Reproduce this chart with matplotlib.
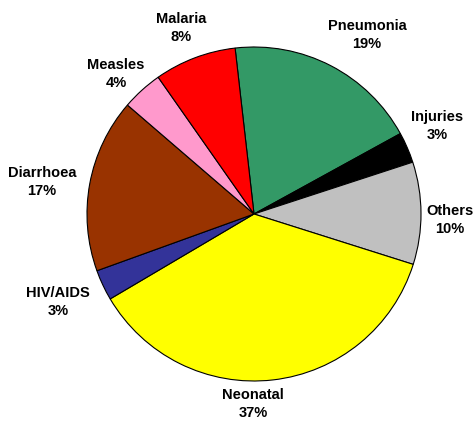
import numpy as np
import matplotlib.pyplot as plt

causes = ['Pneumonia', 'Injuries', 'Others', 'Neonatal', 'HIV/AIDS', 'Diarrhoea', 'Measles', 'Malaria']
percent = [19, 3, 10, 37, 3, 17, 4, 8]
colors = ['#339966', '#000000', '#c0c0c0', '#ffff00', '#333399', '#993300', '#ff99cc', '#ff0000']

labels = [f'{c}\n{p}%' for c, p in zip(causes, percent)]

W, H = 477, 423
fig = plt.figure(figsize=(W / 100, H / 100), dpi=100)
cx, cy, r = 254, 209, 167
lim = 1.25
half = lim * r
ax = fig.add_axes([(cx - half) / W, (cy - half) / H, 2 * half / W, 2 * half / H])
ax.axis('off')

wedges, texts = ax.pie(percent, colors=colors, labels=labels, startangle=96.5,
                       counterclock=False, labeldistance=1.18,
                       wedgeprops=dict(edgecolor='black', linewidth=0.8),
                       textprops=dict(family='Liberation Sans', fontweight='bold',
                                      fontsize=10.5, linespacing=1.3))

# label placement (pixel centres in the image, Excel-style layout)
label_px = [(367, 35), (437, 126), (450, 220), (253, 404),
            (58, 302), (42, 182), (116, 74), (181, 28)]
for t, (px, py) in zip(texts, label_px):
    t.set_ha('center')
    t.set_va('center')
    t.set_position(((px - cx) / r, (H - py - cy) / r))

ax.set_xlim(-lim, lim)
ax.set_ylim(-lim, lim)
ax.set_aspect('equal')

fig.savefig('out.png', dpi=100)
